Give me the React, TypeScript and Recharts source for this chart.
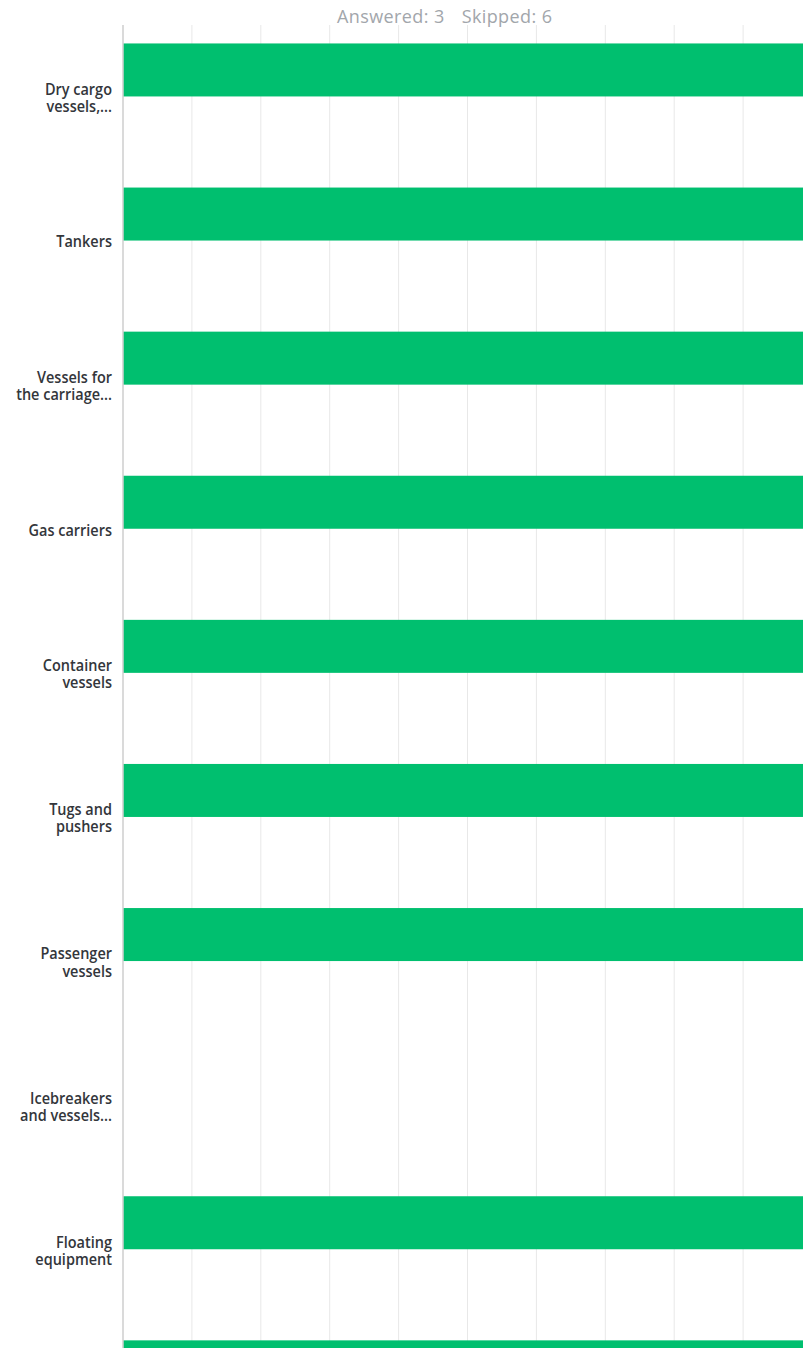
import React from 'react';
import { BarChart, Bar, XAxis, YAxis, CartesianGrid } from 'recharts';

// categories as shown on the y axis (line breaks as in the survey chart)
const categories = [
  'Dry cargo\nvessels,...',
  'Tankers',
  'Vessels for\nthe carriage...',
  'Gas carriers',
  'Container\nvessels',
  'Tugs and\npushers',
  'Passenger\nvessels',
  'Icebreakers\nand vessels...',
  'Floating\nequipment',
  'Other (please\nspecify)',
];

// share of respondents per category (0..1)
const shares = [1, 1, 1, 1, 1, 1, 1, 0, 1, 1];

const xTicks = [0, 0.1, 0.2, 0.3, 0.4, 0.5, 0.6, 0.7, 0.8, 0.9, 1];

const answered = 3;
const skipped = 6;

const data = categories.map((name, i) => ({ name, value: shares[i] }));

const GREEN = '#00bf6f';
const BAR_SIZE = 53;
const BAND = 144.1;
const BAR_SHIFT = BAND / 2 - 18 - BAR_SIZE / 2; // bar sits in the upper part of its band

const CategoryTick = (props: any) => {
  const { x, y, payload } = props;
  const lines = String(payload.value).split('\n');
  const lh = 15.3;
  const start = y - ((lines.length - 1) * lh) / 2;
  const tx = x - 3;
  return (
    <text
      x={tx}
      y={start}
      textAnchor="end"
      dominantBaseline="central"
      fontFamily="'Open Sans', sans-serif"
      fontSize={14.5}
      fontWeight={600}
      fill="#33363b"
      transform={`translate(0 ${y}) scale(1 1.12) translate(0 ${-y})`}
    >
      {lines.map((l, i) => (
        <tspan key={i} x={tx} y={start + i * lh}>
          {l}
        </tspan>
      ))}
    </text>
  );
};

const ShiftedBar = (props: any) => {
  const { x, y, width, height } = props;
  if (!width || width <= 0) return null;
  return <rect x={x} y={y - BAR_SHIFT} width={width} height={height} fill={GREEN} />;
};

export default function App() {
  return (
    <div
      style={{
        position: 'fixed',
        top: 0,
        left: 0,
        width: 803,
        height: 1348,
        overflow: 'hidden',
        background: '#fff',
      }}
    >
      <div
        style={{
          position: 'absolute',
          top: 7,
          left: 337,
          fontFamily: "'Open Sans', sans-serif",
          fontSize: 18,
          lineHeight: '18px',
          letterSpacing: 0.4,
          color: '#a2a6ab',
          whiteSpace: 'pre',
          zIndex: 2,
        }}
      >
        <span>{`Answered: ${answered}`}</span>
        <span style={{ marginLeft: 17 }}>{`Skipped: ${skipped}`}</span>
      </div>
      <BarChart
        width={812}
        height={25 + BAND * categories.length}
        data={data}
        layout="vertical"
        margin={{ top: 25, right: 0, bottom: 0, left: 0 }}
      >
        <CartesianGrid horizontal={false} stroke="#e8e8e8" />
        <XAxis type="number" domain={[0, 1]} ticks={xTicks} hide />
        <YAxis
          type="category"
          dataKey="name"
          width={123}
          tickLine={false}
          axisLine={{ stroke: '#d2d2d2', strokeWidth: 1.5 }}
          tick={<CategoryTick />}
          interval={0}
        />
        <Bar
          dataKey="value"
          barSize={BAR_SIZE}
          fill={GREEN}
          shape={<ShiftedBar />}
          isAnimationActive={false}
        />
      </BarChart>
    </div>
  );
}
